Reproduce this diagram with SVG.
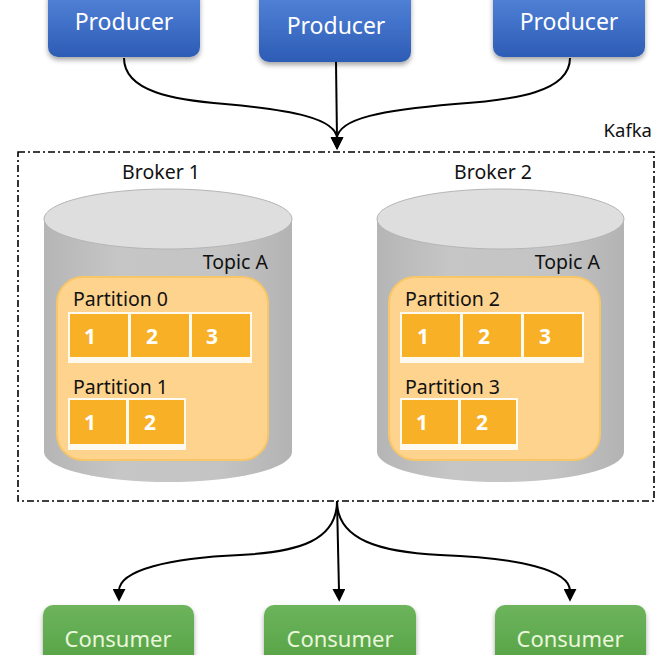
<svg xmlns="http://www.w3.org/2000/svg" width="669" height="655" viewBox="0 0 669 655">
<defs>
<linearGradient id="gBlue" x1="0" y1="0" x2="0" y2="1"><stop offset="0" stop-color="#5587dc"/><stop offset="1" stop-color="#2d5cb5"/></linearGradient>
<linearGradient id="gGreen" x1="0" y1="0" x2="0" y2="1"><stop offset="0" stop-color="#6db45c"/><stop offset="1" stop-color="#52a042"/></linearGradient>
<linearGradient id="gCyl" x1="0" y1="0" x2="1" y2="0"><stop offset="0" stop-color="#b5b5b5"/><stop offset="0.3" stop-color="#c6c6c6"/><stop offset="0.7" stop-color="#c4c4c4"/><stop offset="1" stop-color="#b3b3b3"/></linearGradient>
<filter id="sh" x="-10%" y="-20%" width="120%" height="150%"><feDropShadow dx="0" dy="3" stdDeviation="2.5" flood-color="#000" flood-opacity="0.35"/></filter>
<marker id="ah" viewBox="0 0 12 12" markerWidth="13" markerHeight="13" refX="2" refY="6" orient="auto" markerUnits="userSpaceOnUse"><path d="M0,0 L12,6 L0,12 z" fill="#000"/></marker>
</defs>
<style>
text{font-family:"Noto Sans","Liberation Sans",sans-serif}
.prod{fill:url(#gBlue);filter:url(#sh)}
.cons{fill:url(#gGreen);filter:url(#sh)}
.pt{fill:#ffffff;font-size:23px;text-anchor:middle}
.ct{fill:#eaf7dc;font-size:22px;text-anchor:middle}
.lbl{fill:#111;font-size:19.5px}
.cyl{fill:url(#gCyl)}
.top{fill:#dedede;stroke:#b5b5b5;stroke-width:1}
.topic{fill:#fdd38d;stroke:#f8c666;stroke-width:2}
.strip{fill:#fffaf0}
.cell{fill:#f8b127}
.num{fill:#fff;font-size:21px;font-weight:bold;text-anchor:middle}
.conn{fill:none;stroke:#000;stroke-width:2;marker-end:url(#ah)}
</style>
<g id="kafka">
<rect x="18" y="152" width="636" height="349" fill="none" stroke="#000" stroke-width="1.6" stroke-dasharray="7 3 2 3"/>
<text class="lbl" x="652" y="137" text-anchor="end" style="font-size:18.5px">Kafka</text>
</g>
<g id="producer1"><rect class="prod" x="48" y="-12" width="152" height="69" rx="10"/><text class="pt" x="124" y="30">Producer</text></g>
<g id="producer2"><rect class="prod" x="259" y="-12" width="152" height="74" rx="10"/><text class="pt" x="336" y="34">Producer</text></g>
<g id="producer3"><rect class="prod" x="493" y="-12" width="152" height="69" rx="10"/><text class="pt" x="569" y="30">Producer</text></g>
<g id="broker1">
<text class="lbl" x="161" y="179" text-anchor="middle">Broker 1</text>
<path class="cyl" d="M44,219 L44,452 A124,30 0 0 0 292,452 L292,219 Z"/>
<ellipse class="top" cx="168" cy="219" rx="124" ry="30"/>
<text class="lbl" x="268" y="269" text-anchor="end">Topic A</text>
<rect class="topic" x="57" y="277" width="211" height="183" rx="26"/>
<text class="lbl" x="73" y="306">Partition 0</text>
<rect class="strip" x="68" y="312" width="184" height="51"/>
<rect class="cell" x="70" y="314" width="58" height="43"/><rect class="cell" x="131" y="314" width="58" height="43"/><rect class="cell" x="192" y="314" width="58" height="43"/>
<text class="num" x="90" y="344">1</text><text class="num" x="152" y="344">2</text><text class="num" x="212" y="344">3</text>
<text class="lbl" x="73" y="394">Partition 1</text>
<rect class="strip" x="68" y="398" width="118" height="52"/>
<rect class="cell" x="70" y="400" width="56" height="44"/><rect class="cell" x="129" y="400" width="55" height="44"/>
<text class="num" x="90" y="430">1</text><text class="num" x="150" y="430">2</text>
</g>
<g id="broker2">
<text class="lbl" x="493" y="179" text-anchor="middle">Broker 2</text>
<path class="cyl" d="M377,219 L377,452 A123.5,30 0 0 0 624,452 L624,219 Z"/>
<ellipse class="top" cx="500.5" cy="219" rx="123.5" ry="30"/>
<text class="lbl" x="600" y="269" text-anchor="end">Topic A</text>
<rect class="topic" x="389" y="277" width="211" height="183" rx="26"/>
<text class="lbl" x="405" y="306">Partition 2</text>
<rect class="strip" x="400" y="312" width="184" height="51"/>
<rect class="cell" x="402" y="314" width="58" height="43"/><rect class="cell" x="463" y="314" width="58" height="43"/><rect class="cell" x="524" y="314" width="58" height="43"/>
<text class="num" x="423" y="344">1</text><text class="num" x="484" y="344">2</text><text class="num" x="545" y="344">3</text>
<text class="lbl" x="405" y="394">Partition 3</text>
<rect class="strip" x="400" y="398" width="118" height="52"/>
<rect class="cell" x="402" y="400" width="56" height="44"/><rect class="cell" x="461" y="400" width="55" height="44"/>
<text class="num" x="422" y="430">1</text><text class="num" x="482" y="430">2</text>
</g>
<g id="consumer1"><rect class="cons" x="43" y="605" width="151" height="70" rx="10"/><text class="ct" x="118" y="647">Consumer</text></g>
<g id="consumer2"><rect class="cons" x="264" y="605" width="152" height="70" rx="10"/><text class="ct" x="340" y="647">Consumer</text></g>
<g id="consumer3"><rect class="cons" x="495" y="605" width="151" height="70" rx="10"/><text class="ct" x="570" y="647">Consumer</text></g>
<g id="connectors">
<path class="conn" d="M124,58 C124,92 175,100 225,104 C290,110 337,118 337,139"/>
<path class="conn" d="M336,62 L337,139"/>
<path class="conn" d="M570,58 C570,92 515,100 455,104 C385,110 337,118 337,139"/>
<path class="conn" d="M337,501 C337,540 300,552 240,555 C170,558 119,570 119,591"/>
<path class="conn" d="M337,501 L339,591"/>
<path class="conn" d="M337,501 C337,540 380,552 440,555 C520,558 570,570 570,591"/>
</g>
</svg>
